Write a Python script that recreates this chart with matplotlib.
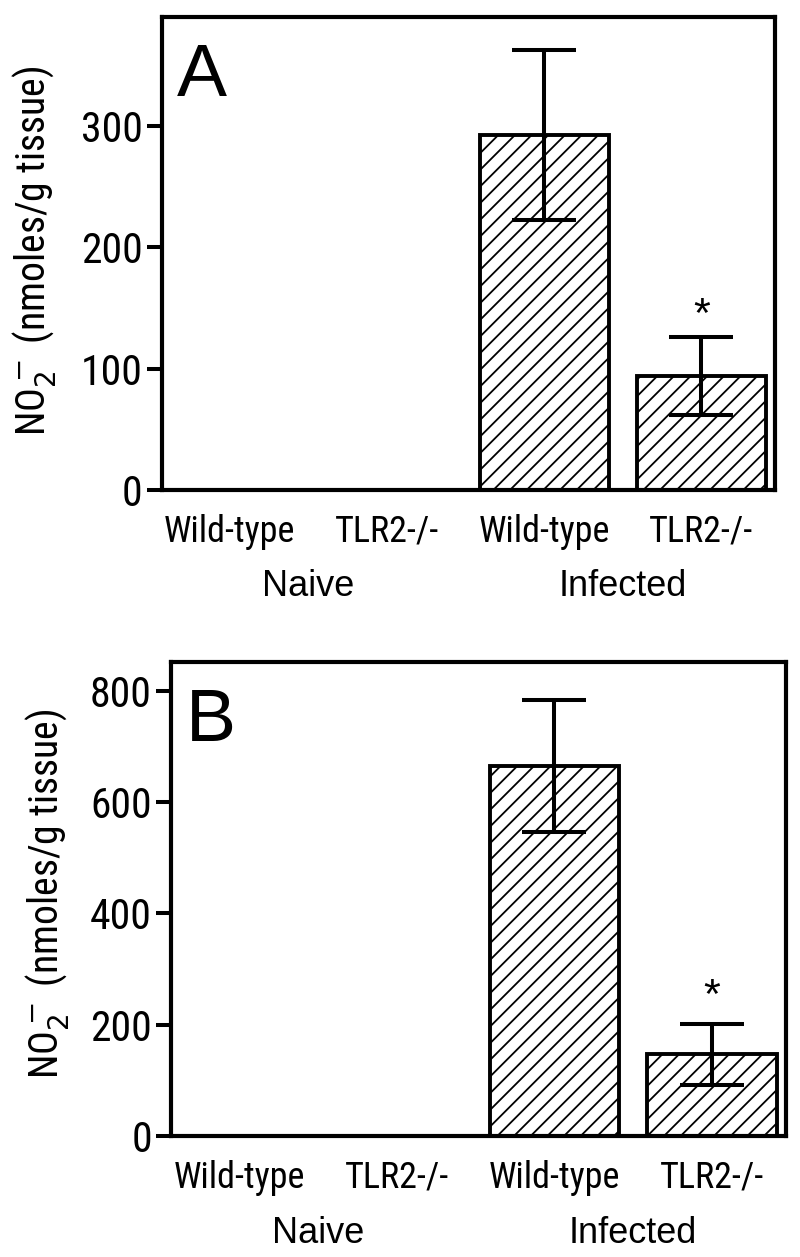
import numpy as np
import matplotlib
matplotlib.use('Agg')
import matplotlib.pyplot as plt
import matplotlib.transforms as mtransforms
from matplotlib import font_manager as fm

# data
categories = ['Wild-type', 'TLR2-/-', 'Wild-type', 'TLR2-/-']
groups = ['Naive', 'Infected']
no2_a = [0, 0, 293, 94]
err_a = [0, 0, 70, 32]
no2_b = [0, 0, 665, 147]
err_b = [0, 0, 119, 55]
yticks_a = [0, 100, 200, 300]
yticks_b = [0, 200, 400, 600, 800]
signif = [False, False, False, True]

plt.rcParams['hatch.linewidth'] = 1.3
plt.rcParams['hatch.color'] = 'black'

# look for a condensed sans font, otherwise fall back to the normal one
cond_file = None
for f in fm.fontManager.ttflist:
    nm = f.name.lower()
    narrowish = ('narrow' in nm or 'condensed' in nm or
                 f.stretch in ('condensed', 'semi-condensed', 'extra-condensed'))
    if narrowish and f.style == 'normal' and f.weight in (400, 'normal', 'regular'):
        if 'mono' in nm or 'serif' in nm and 'sans' not in nm:
            continue
        cond_file = f.fname
        if 'liberation' in nm or 'arial' in nm:
            break
if cond_file:
    narrow = fm.FontProperties(fname=cond_file)
    tick_scale = 1.0
else:
    narrow = fm.FontProperties(family='Liberation Sans')
    tick_scale = 0.85
plt.rcParams['mathtext.fontset'] = 'custom'
plt.rcParams['mathtext.rm'] = narrow.get_name()
plt.rcParams['mathtext.it'] = narrow.get_name()
regular = ['Liberation Sans', 'DejaVu Sans']

fig = plt.figure(figsize=(8, 12.57), dpi=100)
axA = fig.add_axes([0.2025, 0.6102, 0.7665, 0.3763])
axB = fig.add_axes([0.214, 0.0963, 0.7685, 0.377])

def panel(ax, vals, errs, ymax, yticks, letter, lab_x, lab_y, star_off):
    x = np.arange(len(categories))
    for i in range(len(vals)):
        if vals[i] == 0:
            continue
        ax.bar(x[i], vals[i], width=0.82, color='white', edgecolor='black',
               linewidth=2.8, hatch='//', zorder=2)
        ax.errorbar(x[i], vals[i], yerr=errs[i], color='black', elinewidth=2.9,
                    capsize=23, capthick=2.9, zorder=3)
        if signif[i]:
            ax.annotate('*', (x[i], vals[i] + errs[i]), xytext=(0, star_off),
                        textcoords='offset points', ha='center', va='baseline',
                        fontsize=31, family=regular)
    ax.set_xlim(-0.43, 3.47)
    ax.set_ylim(0, ymax)
    ax.set_yticks(yticks)
    ax.set_yticklabels([str(t) for t in yticks], fontproperties=narrow,
                       fontsize=30 * tick_scale)
    ax.set_xticks(x)
    ax.set_xticklabels(categories, fontproperties=narrow, fontsize=26 * tick_scale)
    ax.tick_params(axis='y', length=11, width=2.9, pad=3)
    ax.tick_params(axis='x', length=0, pad=17)
    for s in ax.spines.values():
        s.set_linewidth(3)
    trans = mtransforms.blended_transform_factory(ax.transData, ax.transAxes)
    ax.text(0.5, -0.225, groups[0], transform=trans, ha='center', va='baseline',
            fontsize=26, family=regular)
    ax.text(2.5, -0.225, groups[1], transform=trans, ha='center', va='baseline',
            fontsize=26, family=regular)
    ax.text(0.024, 0.833, letter, transform=ax.transAxes, ha='left', va='baseline',
            fontsize=54, family=regular)
    ax.text(lab_x, lab_y, r'NO$_2^-$ (nmoles/g tissue)', transform=ax.transAxes,
            rotation=90, ha='center', va='center', fontproperties=narrow,
            fontsize=28.5 * tick_scale)

panel(axA, no2_a, err_a, 390, yticks_a, 'A', -0.209, 0.505, 7)
panel(axB, no2_b, err_b, 852, yticks_b, 'B', -0.202, 0.51, 11)

fig.savefig('out.png', dpi=100)
